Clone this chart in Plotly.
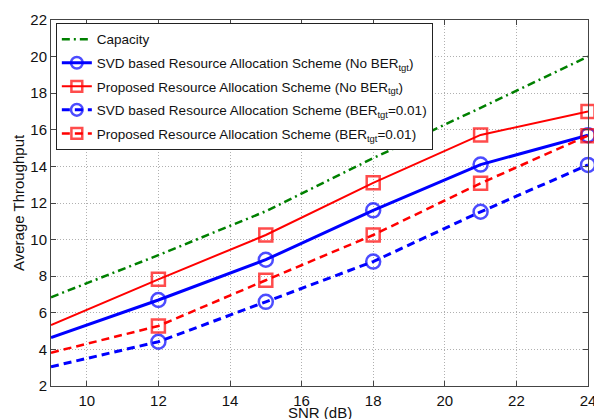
import plotly.graph_objects as go

snr = [9, 12, 15, 18, 21, 24]
capacity = [6.85, 9.15, 11.55, 14.45, 17.2, 20.0]
svd_nober = [4.65, 6.7, 8.9, 11.6, 14.1, 15.7]
prop_nober = [5.33, 7.83, 10.25, 13.1, 15.72, 17.0]
svd_ber = [3.05, 4.42, 6.6, 8.8, 11.52, 14.08]
prop_ber = [3.82, 5.28, 7.78, 10.25, 13.08, 15.68]

x_ticks = [10, 12, 14, 16, 18, 20, 22, 24]
y_ticks = [2, 4, 6, 8, 10, 12, 14, 16, 18, 20, 22]

x_title = "SNR (dB)"
y_title = "Average Throughput"

names = [
    "Capacity",
    "SVD based Resource Allocation Scheme (No BER<sub>tgt</sub>)",
    "Proposed Resource Allocation Scheme (No BER<sub>tgt</sub>)",
    "SVD based Resource Allocation Scheme (BER<sub>tgt</sub>=0.01)",
    "Proposed Resource Allocation Scheme (BER<sub>tgt</sub>=0.01)",
]

BLUE = "#0000ff"
RED = "#ff0000"
GREEN = "#008000"

sizes_c = [0, 14, 14, 14, 14, 14]
sizes_s = [0, 13, 13, 13, 13, 13]

fig = go.Figure()
fig.add_trace(go.Scatter(x=snr, y=capacity, mode="lines", name=names[0],
                         line=dict(color=GREEN, width=2.5, dash="8px,4px,2px,4px"),
                         legendgroup="a", cliponaxis=False))
fig.add_trace(go.Scatter(x=snr, y=svd_nober, mode="lines+markers", name=names[1],
                         line=dict(color=BLUE, width=3),
                         marker=dict(symbol="circle-open", size=sizes_c, color=BLUE, line=dict(width=2.5)),
                         legendgroup="b", cliponaxis=False))
fig.add_trace(go.Scatter(x=snr, y=prop_nober, mode="lines+markers", name=names[2],
                         line=dict(color=RED, width=2),
                         marker=dict(symbol="square-open", size=sizes_s, color=RED, line=dict(width=2.5)),
                         legendgroup="c", cliponaxis=False))
fig.add_trace(go.Scatter(x=snr, y=svd_ber, mode="lines+markers", name=names[3],
                         line=dict(color=BLUE, width=3, dash="8px,5px"),
                         marker=dict(symbol="circle-open", size=sizes_c, color=BLUE, line=dict(width=2.5)),
                         legendgroup="d", cliponaxis=False))
fig.add_trace(go.Scatter(x=snr, y=prop_ber, mode="lines+markers", name=names[4],
                         line=dict(color=RED, width=2.5, dash="8px,5px"),
                         marker=dict(symbol="square-open", size=sizes_s, color=RED, line=dict(width=2.5)),
                         legendgroup="e", cliponaxis=False))

axis_common = dict(
    showline=True, linecolor="#444444", linewidth=1, mirror="ticks",
    ticks="inside", ticklen=5, tickcolor="#444444",
    showgrid=True, gridcolor="#b0b0b0", griddash="1px,2px", gridwidth=1,
    zeroline=False, automargin=False, ticklabeloverflow="allow",
    tickfont=dict(family="Liberation Sans, Arial", size=15, color="#111111"),
)

fig.update_layout(
    width=594, height=419,
    margin=dict(l=51, r=6, t=20, b=33),
    paper_bgcolor="white", plot_bgcolor="white",
    font=dict(family="Liberation Sans, Arial", color="#111111"),
    xaxis=dict(range=[8.9999, 24.0001], tickvals=x_ticks, ticktext=[str(v) for v in x_ticks],
               ticklabelstandoff=1, **axis_common),
    yaxis=dict(range=[1.9999, 22.0001], tickvals=y_ticks, ticktext=[str(v) for v in y_ticks],
               **axis_common),
    legend=dict(x=0.009, y=0.992, xanchor="left", yanchor="top",
                bgcolor="white", bordercolor="#222222", borderwidth=1,
                font=dict(size=13.5, color="#111111"), tracegroupgap=3,
                itemwidth=30),
    showlegend=True,
)

fig.add_annotation(text=x_title, xref="paper", yref="paper", x=0.5, y=-(412 - 386) / 366,
                   xanchor="center", yanchor="middle", showarrow=False,
                   font=dict(size=15, color="#111111"))
fig.add_annotation(text=y_title, xref="paper", yref="paper", x=-(51 - 18) / 537, y=0.5,
                   xanchor="center", yanchor="middle", showarrow=False, textangle=-90,
                   font=dict(size=15, color="#111111"))

fig.write_html("out.html", config={"displayModeBar": False},
               post_script="document.body.style.margin='0';")
